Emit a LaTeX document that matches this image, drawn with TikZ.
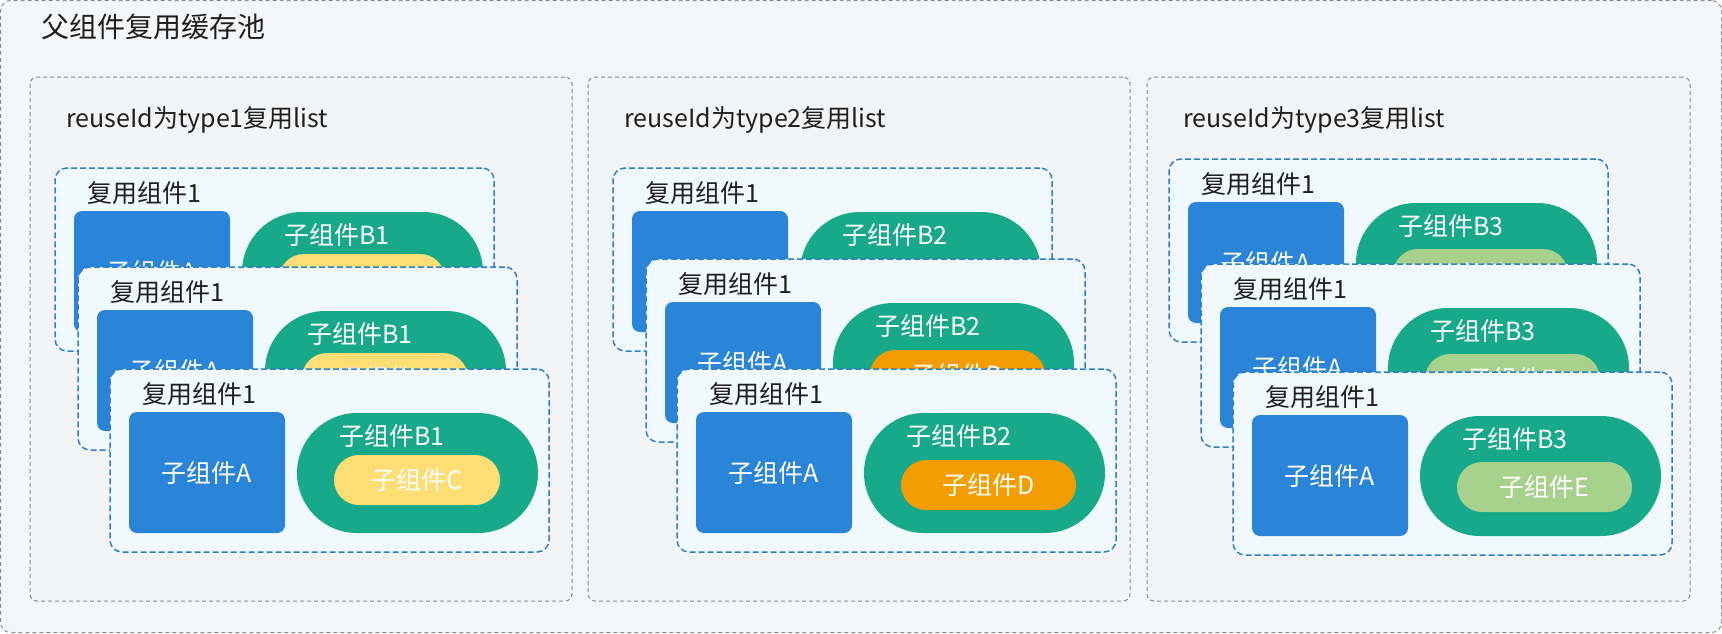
\documentclass[tikz,border=0pt]{standalone}
\usepackage{fontspec}
\setmainfont{Noto Sans CJK SC}
\usetikzlibrary{positioning}
\definecolor{poolGray}{HTML}{F5F6F8}
\definecolor{panelGray}{HTML}{F3F4F6}
\definecolor{lineGray}{HTML}{8A8D92}
\definecolor{cardFill}{HTML}{F0FAFE}
\definecolor{cardBlue}{HTML}{2F7FC9}
\definecolor{compBlue}{HTML}{2A85D8}
\definecolor{compGreen}{HTML}{17A98A}
\definecolor{compYellow}{HTML}{FDDE74}
\definecolor{compOrange}{HTML}{F49D00}
\definecolor{compLeaf}{HTML}{A9D18E}
\definecolor{textDark}{HTML}{1F1F1F}
\newcommand{\labelfont}{\fontsize{25}{30}\selectfont}

\tikzset{
  poolbox/.style={draw=lineGray, dash pattern=on 4pt off 3pt, line width=1pt, fill=poolGray,
    rounded corners=10pt, anchor=north west, inner sep=0pt, outer sep=0pt},
  panelbox/.style={draw=lineGray, dash pattern=on 4pt off 3pt, line width=1pt, fill=panelGray,
    rounded corners=7pt, anchor=north west, inner sep=0pt, outer sep=0pt,
    minimum width=542pt, minimum height=524pt},
  cardbox/.style={draw=cardBlue, dash pattern=on 6pt off 3pt, line width=1.5pt, fill=cardFill,
    rounded corners=12pt, anchor=north west, inner sep=0pt, outer sep=0pt,
    minimum width=439pt, minimum height=183pt},
  darktext/.style={text=textDark, font=\labelfont, anchor=west, inner sep=0pt},
  compA/.style={fill=compBlue, rounded corners=8pt, anchor=north west, inner sep=0pt, outer sep=0pt,
    minimum width=156pt, minimum height=121pt, text=white, font=\labelfont},
  compB/.style={fill=compGreen, rounded corners=60pt, anchor=north west, inner sep=0pt, outer sep=0pt,
    minimum width=241pt, minimum height=120pt},
  compBtext/.style={text=white, font=\labelfont, anchor=west, inner sep=0pt},
  compInner/.style={rounded corners=25pt, anchor=north west, inner sep=0pt, outer sep=0pt,
    minimum height=50pt, text=white, font=\labelfont},
}

% one reused card: name, x, y, B label, inner colour, inner label, inner width, inner top
\newcommand{\reusecard}[8]{%
  \node[cardbox] (#1) at (#2,#3) {};
  \node[darktext] (#1-title) at ([xshift=32pt,yshift=-25pt]#1.north west) {复用组件1};
  \node[compA] (#1-a) at ([xshift=19pt,yshift=-43pt]#1.north west) {子组件A};
  \node[compB] (#1-b) at ([xshift=187pt,yshift=-44pt]#1.north west) {};
  \node[compBtext] (#1-btext) at ([xshift=42pt,yshift=-23pt]#1-b.north west) {#4};
  \node[compInner, fill=#5, minimum width=#7] (#1-c) at ([xshift=37pt,yshift=-#8]#1-b.north west) {#6};
}

\begin{document}
\begin{tikzpicture}[x=1pt, y=-1pt]
  \useasboundingbox (0,0) rectangle (1722,633);

  % pool
  \node[poolbox, minimum width=1721pt, minimum height=632pt] (pool) at (0.5,0.5) {};
  \node[darktext, font=\fontsize{28}{32}\selectfont] (pool-title) at (41,27) {父组件复用缓存池};

  % lists
  \node[panelbox] (list1) at (30,77) {};
  \node[panelbox] (list2) at (588,77) {};
  \node[panelbox, minimum width=543pt] (list3) at (1147,77) {};
  \node[darktext] (list1-title) at ([xshift=36pt,yshift=-43pt]list1.north west) {reuseId为type1复用list};
  \node[darktext] (list2-title) at ([xshift=36pt,yshift=-43pt]list2.north west) {reuseId为type2复用list};
  \node[darktext] (list3-title) at ([xshift=36pt,yshift=-43pt]list3.north west) {reuseId为type3复用list};

  % type1
  \reusecard{p1c1}{55}{168}{子组件B1}{compYellow}{子组件C}{166pt}{42pt}
  \reusecard{p1c2}{78}{267}{子组件B1}{compYellow}{子组件C}{166pt}{42pt}
  \reusecard{p1c3}{110}{369}{子组件B1}{compYellow}{子组件C}{166pt}{42pt}

  % type2
  \reusecard{p2c1}{613}{168}{子组件B2}{compOrange}{子组件D}{175pt}{47pt}
  \reusecard{p2c2}{646}{259}{子组件B2}{compOrange}{子组件D}{175pt}{47pt}
  \reusecard{p2c3}{677}{369}{子组件B2}{compOrange}{子组件D}{175pt}{47pt}

  % type3
  \reusecard{p3c1}{1169}{159}{子组件B3}{compLeaf}{子组件E}{175pt}{46pt}
  \reusecard{p3c2}{1201}{264}{子组件B3}{compLeaf}{子组件E}{175pt}{46pt}
  \reusecard{p3c3}{1233}{372}{子组件B3}{compLeaf}{子组件E}{175pt}{46pt}
\end{tikzpicture}
\end{document}
